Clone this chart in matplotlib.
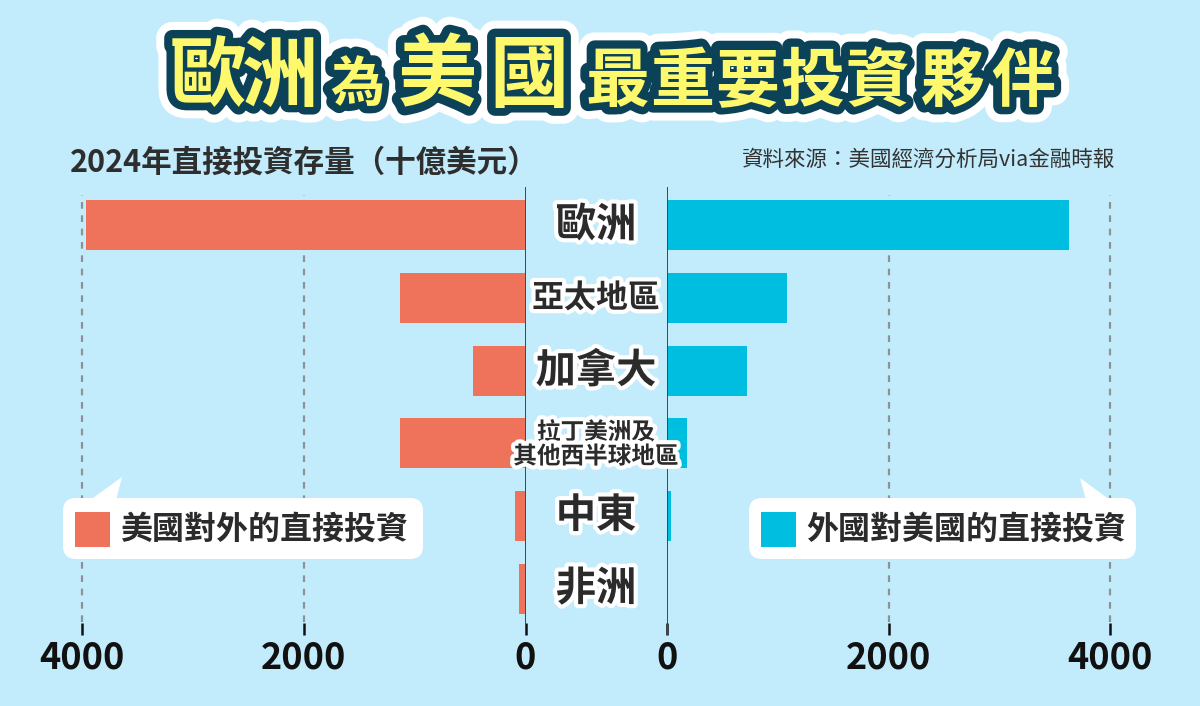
import matplotlib
matplotlib.use("Agg")
import matplotlib.pyplot as plt
import matplotlib.patheffects as pe
from matplotlib.patches import FancyBboxPatch, Polygon, Rectangle
import numpy as np

plt.rcParams['font.family'] = ['Noto Sans CJK TC', 'DejaVu Sans']

# data (十億美元, 2024)
regions = ['歐洲', '亞太地區', '加拿大', '拉丁美洲及\n其他西半球地區', '中東', '非洲']
us_outward = [3970, 1130, 470, 1130, 95, 55]      # 美國對外的直接投資
foreign_inward = [3630, 1085, 720, 185, 36, 0]    # 外國對美國的直接投資
ticks = [0, 2000, 4000]
label_sizes = [29, 23, 29, 17, 29, 29]

BG = '#c2ecfc'
RED = '#ee735a'
BLUE = '#00bedf'
DARK = '#2b2b2b'

W, H = 1200, 706
fig = plt.figure(figsize=(12, 7.06), dpi=100, facecolor=BG)


def px_axes(x0, x1, y0, y1):
    # box in pixels (origin top-left) -> figure fractions
    return fig.add_axes([x0 / W, 1 - y1 / H, (x1 - x0) / W, (y1 - y0) / H])


scale = 0.1108  # px per unit
xmax = 4300
top, bottom = 187, 635
axL = px_axes(525.5 - xmax * scale, 525.5, top, bottom)
axR = px_axes(667, 667 + xmax * scale, top, bottom)
y = np.arange(len(regions))

for ax, vals, color in [(axL, us_outward, RED), (axR, foreign_inward, BLUE)]:
    ax.set_facecolor('none')
    ax.barh(y, vals, height=0.687, color=color, zorder=2)
    ax.set_xlim(0, xmax)
    ax.set_ylim(5.63, -0.52)
    for v in ticks[1:]:
        ax.axvline(v, ymin=0.03, ymax=0.982, color='#8c9296', lw=1.6,
                   ls=(0, (3, 3)), zorder=1)
    ax.axvline(0, color='#3a4a50', lw=1.4, zorder=3)
    ax.set_xticks(ticks)
    ax.set_xticklabels([str(t) for t in ticks], fontweight='heavy')
    ax.tick_params(axis='x', direction='in', length=8.5, width=1.8,
                   color='#111111', pad=3, labelsize=26, labelcolor='#111111')
    ax.set_yticks([])
    for s in ax.spines.values():
        s.set_visible(False)
axL.invert_xaxis()

# overlay in pixel coordinates
deco = fig.add_axes([0, 0, 1, 1])
deco.set_xlim(0, W)
deco.set_ylim(H, 0)
deco.axis('off')
deco.set_facecolor('none')

# title, drawn in three passes so outlines stack cleanly
title = [('歐', 55, 208, 77), ('洲', 55, 280, 77), ('為', 39, 357, 85),
         ('美', 57, 437, 77), ('國', 57, 529, 77),
         ('最', 46, 617, 82), ('重', 46, 682, 82), ('要', 46, 747, 82),
         ('投', 46, 812, 82), ('資', 46, 877, 82), ('夥', 46, 952, 82),
         ('伴', 46, 1023, 82)]
passes = [('white', 23, 'white', 5), ('#0c4258', 11.5, '#0c4258', 6),
          ('#fdf86c', 0, None, 7)]
for fill, lw, stroke, z in passes:
    for ch, size, xc, yc in title:
        t = deco.text(xc, yc, ch, fontsize=size, fontweight='black', color=fill,
                      ha='center', va='center', zorder=z)
        if stroke:
            t.set_path_effects([pe.withStroke(linewidth=lw, foreground=stroke,
                                              capstyle='round', joinstyle='round')])

deco.text(70, 163, '2024年直接投資存量（十億美元）', fontsize=22, fontweight='bold',
          color='#2e2e2e', ha='left', va='center')
deco.text(1115, 160, '資料來源：美國經濟分析局via金融時報', fontsize=15.5,
          color='#333333', ha='right', va='center')

# region labels between the two axes
ycent = [225.3, 298.5, 371.3, 444.5, 516, 589]
for name, yc, fs in zip(regions, ycent, label_sizes):
    deco.text(596, yc, name, fontsize=fs, fontweight='heavy', color=DARK,
              ha='center', va='center', linespacing=1.0, zorder=8,
              path_effects=[pe.withStroke(linewidth=6, foreground='white')])

# legend bubbles
legends = [(63, 360, [(90, 500), (122, 477), (116, 500)], RED, '美國對外的直接投資'),
           (749, 387, [(1086, 500), (1080, 478), (1110, 500)], BLUE, '外國對美國的直接投資')]
for x0, w, tail, color, text in legends:
    deco.add_patch(FancyBboxPatch((x0, 498), w, 61,
                                  boxstyle='round,pad=0,rounding_size=13',
                                  fc='white', ec='none', zorder=4))
    deco.add_patch(Polygon(tail, closed=True, fc='white', ec='none', zorder=4))
    deco.add_patch(Rectangle((x0 + 12, 512), 35, 35, fc=color, ec='none', zorder=5))
    deco.text(x0 + 57, 530, text, fontsize=23, fontweight='bold', color=DARK,
              ha='left', va='center', zorder=5)

fig.savefig('out.png', dpi=100, facecolor=BG)
